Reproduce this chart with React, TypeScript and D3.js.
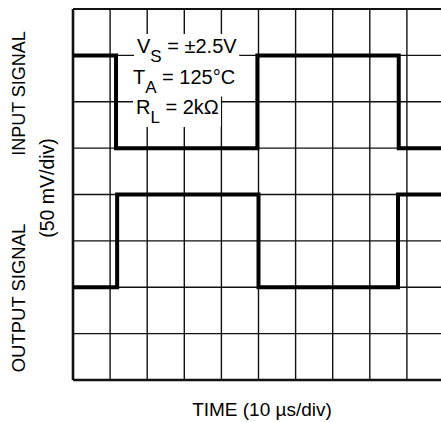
import React, { useEffect, useRef } from "react";
import * as d3 from "d3";

// Time divisions (10 µs/div) and vertical divisions (50 mV/div)
const timeDivs = d3.range(0, 11);
const voltDivs = d3.range(0, 9);

// Step signal transitions: time (div) and level (div from bottom)
const inputTimes = [0, 1.16, 4.97, 8.78, 10];
const inputLevels = [7, 5, 7, 5, 5];
const outputTimes = [0, 1.19, 5.0, 8.76, 10];
const outputLevels = [2, 4, 2, 4, 4];

const annotation = [
  { main: "V", sub: "S", rest: " = ±2.5V" },
  { main: "T", sub: "A", rest: " = 125°C" },
  { main: "R", sub: "L", rest: " = 2kΩ" },
];

const yLabelLeft = ["INPUT SIGNAL", "OUTPUT SIGNAL"];
const yLabelUnits = "(50 mV/div)";
const xLabel = "TIME (10 µs/div)";

const W = 441;
const H = 422;
const FONT = "'Liberation Sans', Arial, Helvetica, sans-serif";

export default function App() {
  const ref = useRef<SVGSVGElement>(null);

  useEffect(() => {
    const svg = d3.select(ref.current);
    svg.selectAll("*").remove();

    const x = d3.scaleLinear().domain([0, 10]).range([73, 444]);
    const y = d3.scaleLinear().domain([0, 8]).range([380, 9]);

    const g = svg.append("g");

    // grid
    g.selectAll("line.v")
      .data(timeDivs)
      .enter()
      .append("line")
      .attr("x1", (d) => x(d))
      .attr("x2", (d) => x(d))
      .attr("y1", y(0))
      .attr("y2", y(8))
      .attr("stroke", "#111")
      .attr("stroke-width", (d) => (d === 0 ? 2.6 : 1.4));
    g.selectAll("line.h")
      .data(voltDivs)
      .enter()
      .append("line")
      .attr("x1", x(0))
      .attr("x2", x(10))
      .attr("y1", (d) => y(d))
      .attr("y2", (d) => y(d))
      .attr("stroke", "#111")
      .attr("stroke-width", (d) => (d === 0 ? 2.6 : d === 8 ? 2.2 : 1.4));

    // annotation box
    const ann = g.append("g");
    const baseX = [137, 133, 136];
    const baselines = [53, 83.5, 114];
    annotation.forEach((a, i) => {
      const t = ann
        .append("text")
        .attr("x", baseX[i])
        .attr("y", baselines[i])
        .attr("font-family", FONT)
        .attr("font-size", 20)
        .attr("fill", "#000");
      t.append("tspan").text(a.main);
      t.append("tspan").attr("dy", 9).attr("font-size", 17).text(a.sub);
      t.append("tspan").attr("dy", -9).text(a.rest);
      const bb = (t.node() as SVGTextElement).getBBox();
      ann
        .insert("rect", "text")
        .attr("x", bb.x - 3)
        .attr("y", i === 0 ? bb.y - 1 : bb.y - 6)
        .attr("width", bb.width + 5)
        .attr("height", bb.height + 6)
        .attr("fill", "#fff");
    });

    // signals
    const line = d3
      .line<[number, number]>()
      .x((d) => x(d[0]))
      .y((d) => y(d[1]))
      .curve(d3.curveStepAfter);
    const inData = inputTimes.map((t, i) => [t, inputLevels[i]] as [number, number]);
    const outData = outputTimes.map((t, i) => [t, outputLevels[i]] as [number, number]);
    [inData, outData].forEach((d) => {
      g.append("path")
        .attr("d", line(d))
        .attr("fill", "none")
        .attr("stroke", "#000")
        .attr("stroke-width", 4);
    });

    // labels
    const labelAt = (text: string, bx: number, cy: number, fs: number) =>
      svg
        .append("text")
        .attr("transform", `translate(${bx},${cy}) rotate(-90)`)
        .attr("text-anchor", "middle")
        .attr("font-family", FONT)
        .attr("font-size", fs)
        .attr("fill", "#000")
        .text(text);
    labelAt(yLabelLeft[0], 25, 93.5, 18);
    labelAt(yLabelLeft[1], 25, 298, 18.5);
    labelAt(yLabelUnits, 54, 188, 19.5);

    svg
      .append("text")
      .attr("x", 262)
      .attr("y", 416)
      .attr("text-anchor", "middle")
      .attr("font-family", FONT)
      .attr("font-size", 19)
      .attr("fill", "#000")
      .text(xLabel);
  }, []);

  return (
    <svg
      ref={ref}
      width={W}
      height={H}
      style={{ position: "absolute", left: 0, top: 0, background: "#fff" }}
    />
  );
}
